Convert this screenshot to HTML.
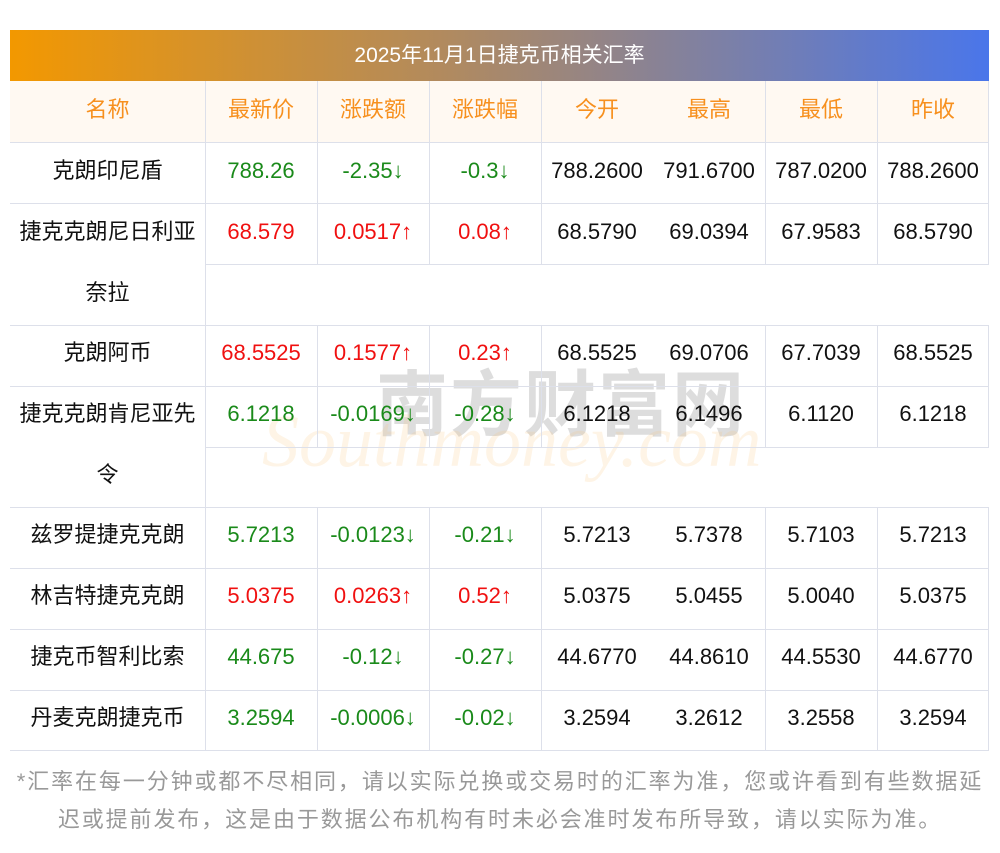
<!DOCTYPE html>
<html><head><meta charset="utf-8">
<style>
*{margin:0;padding:0;box-sizing:border-box}
body{width:1000px;height:853px;background:#fff;position:relative;overflow:hidden;font-family:"Liberation Sans","Noto Sans CJK SC",sans-serif}
.title{position:absolute;left:10px;top:30px;width:979px;height:51px;background:linear-gradient(90deg,#f39800,#b08a60 45%,#4a76ea);color:#fff;font-size:21px;text-align:center;line-height:51px}
.hdr{position:absolute;left:10px;top:81px;width:979px;height:61px;background:#fff9f2}
.h{position:absolute;height:1px;background:#dde0ea}
.v{position:absolute;width:1px;background:#dde0ea}
.c{position:absolute;height:61px;line-height:61px;text-align:center;font-size:22px;color:#111;white-space:nowrap;margin-top:0px}
.o{color:#f7901e}
.g{color:#1a8a1a}
.r{color:#f01010}
.foot{position:absolute;left:0;top:763px;width:1000px;text-align:center;color:#999;font-size:22px;line-height:38px;letter-spacing:1.9px}
.wm1{position:absolute;left:376px;top:346px;font-size:72px;color:rgba(150,150,150,0.32);letter-spacing:2px;font-weight:bold}
.wm2{position:absolute;left:262px;top:400px;font-size:74px;font-style:italic;font-family:"Liberation Serif",serif;color:rgba(250,200,130,0.2)}
</style></head><body>
<div class="title">2025年11月1日捷克币相关汇率</div>
<div class="hdr"></div>
<div class="wm1">南方财富网</div>
<div class="wm2">Southmoney.com</div>
<div class="h" style="left:10px;top:142px;width:979px"></div>
<div class="h" style="left:10px;top:203px;width:979px"></div>
<div class="h" style="left:205px;top:264px;width:784px"></div>
<div class="h" style="left:10px;top:325px;width:979px"></div>
<div class="h" style="left:10px;top:386px;width:979px"></div>
<div class="h" style="left:205px;top:447px;width:784px"></div>
<div class="h" style="left:10px;top:507px;width:979px"></div>
<div class="h" style="left:10px;top:568px;width:979px"></div>
<div class="h" style="left:10px;top:629px;width:979px"></div>
<div class="h" style="left:10px;top:690px;width:979px"></div>
<div class="h" style="left:10px;top:750px;width:979px"></div>
<div class="v" style="left:205px;top:81px;height:669px"></div>
<div class="v" style="left:317px;top:81px;height:183px"></div><div class="v" style="left:317px;top:325px;height:122px"></div><div class="v" style="left:317px;top:507px;height:243px"></div>
<div class="v" style="left:429px;top:81px;height:183px"></div><div class="v" style="left:429px;top:325px;height:122px"></div><div class="v" style="left:429px;top:507px;height:243px"></div>
<div class="v" style="left:541px;top:81px;height:183px"></div><div class="v" style="left:541px;top:325px;height:122px"></div><div class="v" style="left:541px;top:507px;height:243px"></div>
<div class="v" style="left:765px;top:81px;height:183px"></div><div class="v" style="left:765px;top:325px;height:122px"></div><div class="v" style="left:765px;top:507px;height:243px"></div>
<div class="v" style="left:877px;top:81px;height:183px"></div><div class="v" style="left:877px;top:325px;height:122px"></div><div class="v" style="left:877px;top:507px;height:243px"></div>
<div class="v" style="left:988px;top:81px;height:183px"></div><div class="v" style="left:988px;top:325px;height:122px"></div><div class="v" style="left:988px;top:507px;height:243px"></div>

<div class="c o" style="left:10px;width:195px;top:79px">名称</div>
<div class="c o" style="left:205px;width:112px;top:79px">最新价</div>
<div class="c o" style="left:317px;width:112px;top:79px">涨跌额</div>
<div class="c o" style="left:429px;width:112px;top:79px">涨跌幅</div>
<div class="c o" style="left:541px;width:112px;top:79px">今开</div>
<div class="c o" style="left:653px;width:112px;top:79px">最高</div>
<div class="c o" style="left:765px;width:112px;top:79px">最低</div>
<div class="c o" style="left:877px;width:112px;top:79px">昨收</div>

<div class="c" style="left:10px;width:195px;top:140px">克朗印尼盾</div>
<div class="c g" style="left:205px;width:112px;top:140px">788.26</div>
<div class="c g" style="left:317px;width:112px;top:140px">-2.35↓</div>
<div class="c g" style="left:429px;width:112px;top:140px">-0.3↓</div>
<div class="c" style="left:541px;width:112px;top:140px">788.2600</div>
<div class="c" style="left:653px;width:112px;top:140px">791.6700</div>
<div class="c" style="left:765px;width:112px;top:140px">787.0200</div>
<div class="c" style="left:877px;width:112px;top:140px">788.2600</div>

<div class="c" style="left:10px;width:195px;top:201px">捷克克朗尼日利亚</div>
<div class="c" style="left:10px;width:195px;top:262px">奈拉</div>
<div class="c r" style="left:205px;width:112px;top:201px">68.579</div>
<div class="c r" style="left:317px;width:112px;top:201px">0.0517↑</div>
<div class="c r" style="left:429px;width:112px;top:201px">0.08↑</div>
<div class="c" style="left:541px;width:112px;top:201px">68.5790</div>
<div class="c" style="left:653px;width:112px;top:201px">69.0394</div>
<div class="c" style="left:765px;width:112px;top:201px">67.9583</div>
<div class="c" style="left:877px;width:112px;top:201px">68.5790</div>

<div class="c" style="left:10px;width:195px;top:322px">克朗阿币</div>
<div class="c r" style="left:205px;width:112px;top:322px">68.5525</div>
<div class="c r" style="left:317px;width:112px;top:322px">0.1577↑</div>
<div class="c r" style="left:429px;width:112px;top:322px">0.23↑</div>
<div class="c" style="left:541px;width:112px;top:322px">68.5525</div>
<div class="c" style="left:653px;width:112px;top:322px">69.0706</div>
<div class="c" style="left:765px;width:112px;top:322px">67.7039</div>
<div class="c" style="left:877px;width:112px;top:322px">68.5525</div>

<div class="c" style="left:10px;width:195px;top:383px">捷克克朗肯尼亚先</div>
<div class="c" style="left:10px;width:195px;top:444px">令</div>
<div class="c g" style="left:205px;width:112px;top:383px">6.1218</div>
<div class="c g" style="left:317px;width:112px;top:383px">-0.0169↓</div>
<div class="c g" style="left:429px;width:112px;top:383px">-0.28↓</div>
<div class="c" style="left:541px;width:112px;top:383px">6.1218</div>
<div class="c" style="left:653px;width:112px;top:383px">6.1496</div>
<div class="c" style="left:765px;width:112px;top:383px">6.1120</div>
<div class="c" style="left:877px;width:112px;top:383px">6.1218</div>

<div class="c" style="left:10px;width:195px;top:504px">兹罗提捷克克朗</div>
<div class="c g" style="left:205px;width:112px;top:504px">5.7213</div>
<div class="c g" style="left:317px;width:112px;top:504px">-0.0123↓</div>
<div class="c g" style="left:429px;width:112px;top:504px">-0.21↓</div>
<div class="c" style="left:541px;width:112px;top:504px">5.7213</div>
<div class="c" style="left:653px;width:112px;top:504px">5.7378</div>
<div class="c" style="left:765px;width:112px;top:504px">5.7103</div>
<div class="c" style="left:877px;width:112px;top:504px">5.7213</div>

<div class="c" style="left:10px;width:195px;top:565px">林吉特捷克克朗</div>
<div class="c r" style="left:205px;width:112px;top:565px">5.0375</div>
<div class="c r" style="left:317px;width:112px;top:565px">0.0263↑</div>
<div class="c r" style="left:429px;width:112px;top:565px">0.52↑</div>
<div class="c" style="left:541px;width:112px;top:565px">5.0375</div>
<div class="c" style="left:653px;width:112px;top:565px">5.0455</div>
<div class="c" style="left:765px;width:112px;top:565px">5.0040</div>
<div class="c" style="left:877px;width:112px;top:565px">5.0375</div>

<div class="c" style="left:10px;width:195px;top:626px">捷克币智利比索</div>
<div class="c g" style="left:205px;width:112px;top:626px">44.675</div>
<div class="c g" style="left:317px;width:112px;top:626px">-0.12↓</div>
<div class="c g" style="left:429px;width:112px;top:626px">-0.27↓</div>
<div class="c" style="left:541px;width:112px;top:626px">44.6770</div>
<div class="c" style="left:653px;width:112px;top:626px">44.8610</div>
<div class="c" style="left:765px;width:112px;top:626px">44.5530</div>
<div class="c" style="left:877px;width:112px;top:626px">44.6770</div>

<div class="c" style="left:10px;width:195px;top:687px">丹麦克朗捷克币</div>
<div class="c g" style="left:205px;width:112px;top:687px">3.2594</div>
<div class="c g" style="left:317px;width:112px;top:687px">-0.0006↓</div>
<div class="c g" style="left:429px;width:112px;top:687px">-0.02↓</div>
<div class="c" style="left:541px;width:112px;top:687px">3.2594</div>
<div class="c" style="left:653px;width:112px;top:687px">3.2612</div>
<div class="c" style="left:765px;width:112px;top:687px">3.2558</div>
<div class="c" style="left:877px;width:112px;top:687px">3.2594</div>

<div class="foot">*汇率在每一分钟或都不尽相同，请以实际兑换或交易时的汇率为准，您或许看到有些数据延<br>迟或提前发布，这是由于数据公布机构有时未必会准时发布所导致，请以实际为准。</div>
</body></html>
